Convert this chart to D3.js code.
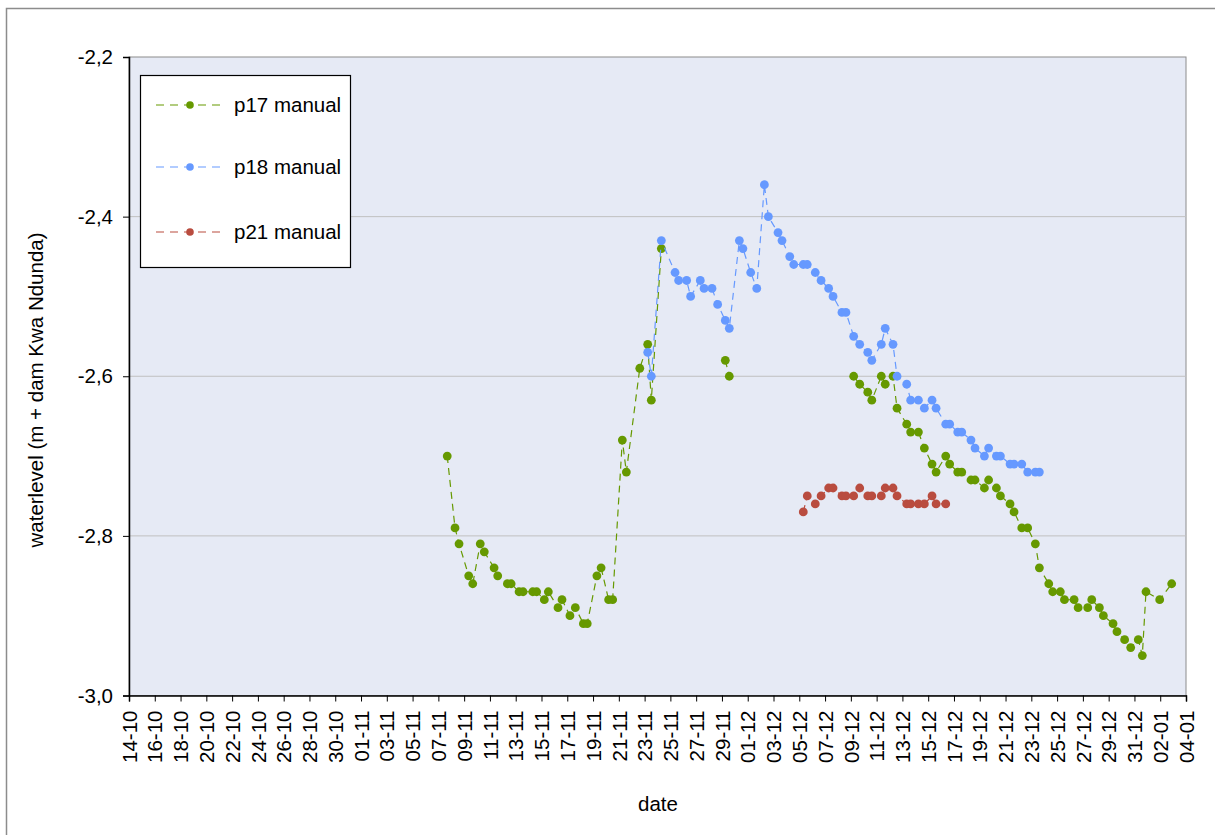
<!DOCTYPE html>
<html><head><meta charset="utf-8">
<script src="https://cdn.jsdelivr.net/npm/d3@7"></script>
<style>
html,body{margin:0;padding:0;background:#fff;}
svg{display:block;font-family:"Liberation Sans",Arial,sans-serif;}
</style></head>
<body>
<svg id="chart" width="1215" height="835"></svg>
<script>
// ---- data ----
const seriesNames = ["p17 manual", "p18 manual", "p21 manual"];
const seriesColors = ["#669900", "#6699ff", "#b94c3f"];

const p17Data = [
["2009-11-07 16:30",-2.70],["2009-11-08 07:00",-2.79],["2009-11-08 14:30",-2.81],["2009-11-09 08:30",-2.85],["2009-11-09 16:00",-2.86],
["2009-11-10 06:00",-2.81],["2009-11-10 13:30",-2.82],["2009-11-11 07:45",-2.84],["2009-11-11 14:30",-2.85],["2009-11-12 08:30",-2.86],
["2009-11-12 15:30",-2.86],["2009-11-13 06:15",-2.87],["2009-11-13 13:45",-2.87],["2009-11-14 07:45",-2.87],["2009-11-14 15:00",-2.87],
["2009-11-15 05:15",-2.88],["2009-11-15 12:45",-2.87],["2009-11-16 06:45",-2.89],["2009-11-16 14:10",-2.88],["2009-11-17 05:00",-2.90],
["2009-11-17 15:00",-2.89],["2009-11-18 06:00",-2.91],["2009-11-18 13:10",-2.91],["2009-11-19 07:10",-2.85],["2009-11-19 15:00",-2.84],
["2009-11-20 05:00",-2.88],["2009-11-20 12:30",-2.88],["2009-11-21 06:30",-2.68],["2009-11-21 14:00",-2.72],["2009-11-22 15:00",-2.59],
["2009-11-23 05:45",-2.56],["2009-11-23 12:30",-2.63],["2009-11-24 07:10",-2.44],
["2009-11-26 12:00",null],
["2009-11-29 06:15",-2.58],["2009-11-29 13:40",-2.60],
["2009-12-05 12:00",null],
["2009-12-09 05:15",-2.60],["2009-12-09 16:30",-2.61],["2009-12-10 07:30",-2.62],["2009-12-10 15:00",-2.63],["2009-12-11 08:40",-2.60],
["2009-12-11 16:00",-2.61],["2009-12-12 06:30",-2.60],["2009-12-12 14:00",-2.64],["2009-12-13 08:00",-2.66],["2009-12-13 15:20",-2.67],
["2009-12-14 05:45",-2.67],["2009-12-14 16:50",-2.69],["2009-12-15 07:10",-2.71],["2009-12-15 14:40",-2.72],["2009-12-16 08:40",-2.70],
["2009-12-16 16:00",-2.71],["2009-12-17 07:00",-2.72],["2009-12-17 14:30",-2.72],["2009-12-18 07:40",-2.73],["2009-12-18 15:10",-2.73],
["2009-12-19 08:40",-2.74],["2009-12-19 16:30",-2.73],["2009-12-20 07:00",-2.74],["2009-12-20 14:30",-2.75],["2009-12-21 08:25",-2.76],
["2009-12-21 15:50",-2.77],["2009-12-22 06:15",-2.79],["2009-12-22 17:15",-2.79],["2009-12-23 07:30",-2.81],["2009-12-23 15:00",-2.84],
["2009-12-24 08:30",-2.86],["2009-12-24 15:50",-2.87],["2009-12-25 06:00",-2.87],["2009-12-25 13:40",-2.88],["2009-12-26 07:40",-2.88],
["2009-12-26 15:10",-2.89],["2009-12-27 09:00",-2.89],["2009-12-27 16:30",-2.88],["2009-12-28 06:45",-2.89],["2009-12-28 14:10",-2.90],
["2009-12-29 08:10",-2.91],["2009-12-29 15:30",-2.92],["2009-12-30 05:45",-2.93],["2009-12-30 17:00",-2.94],["2009-12-31 07:10",-2.93],
["2009-12-31 14:40",-2.95],["2009-12-31 21:30",-2.87],["2010-01-01 23:00",-2.88],["2010-01-02 21:20",-2.86]
];

const p18Data = [
["2009-11-23 05:45",-2.57],["2009-11-23 12:30",-2.60],["2009-11-24 07:10",-2.43],["2009-11-25 08:40",-2.47],["2009-11-25 15:20",-2.48],
["2009-11-26 06:15",-2.48],["2009-11-26 13:40",-2.50],["2009-11-27 07:40",-2.48],["2009-11-27 14:40",-2.49],["2009-11-28 05:30",-2.49],
["2009-11-28 16:00",-2.51],["2009-11-29 06:15",-2.53],["2009-11-29 13:40",-2.54],["2009-11-30 08:25",-2.43],["2009-11-30 15:00",-2.44],
["2009-12-01 05:30",-2.47],["2009-12-01 16:50",-2.49],["2009-12-02 07:00",-2.36],["2009-12-02 14:25",-2.40],["2009-12-03 08:25",-2.42],
["2009-12-03 15:50",-2.43],["2009-12-04 06:15",-2.45],["2009-12-04 13:40",-2.46],["2009-12-05 07:25",-2.46],["2009-12-05 14:50",-2.46],
["2009-12-06 05:45",-2.47],["2009-12-06 16:35",-2.48],["2009-12-07 06:40",-2.49],["2009-12-07 14:50",-2.50],["2009-12-08 07:25",-2.52],
["2009-12-08 14:50",-2.52],["2009-12-09 05:15",-2.55],["2009-12-09 16:30",-2.56],["2009-12-10 07:30",-2.57],["2009-12-10 15:00",-2.58],
["2009-12-11 08:40",-2.56],["2009-12-11 16:00",-2.54],["2009-12-12 06:30",-2.56],["2009-12-12 14:00",-2.60],["2009-12-13 08:00",-2.61],
["2009-12-13 15:20",-2.63],["2009-12-14 05:45",-2.63],["2009-12-14 16:50",-2.64],["2009-12-15 07:10",-2.63],["2009-12-15 14:40",-2.64],
["2009-12-16 08:40",-2.66],["2009-12-16 16:00",-2.66],["2009-12-17 07:00",-2.67],["2009-12-17 14:30",-2.67],["2009-12-18 07:40",-2.68],
["2009-12-18 15:10",-2.69],["2009-12-19 08:40",-2.70],["2009-12-19 16:30",-2.69],["2009-12-20 07:00",-2.70],["2009-12-20 14:30",-2.70],
["2009-12-21 08:25",-2.71],["2009-12-21 15:50",-2.71],["2009-12-22 06:15",-2.71],["2009-12-22 17:15",-2.72],["2009-12-23 07:30",-2.72],
["2009-12-23 15:00",-2.72]
];

const p21Data = [
["2009-12-05 07:25",-2.77],["2009-12-05 14:50",-2.75],["2009-12-06 05:45",-2.76],["2009-12-06 16:35",-2.75],["2009-12-07 06:40",-2.74],
["2009-12-07 14:50",-2.74],["2009-12-08 07:25",-2.75],["2009-12-08 14:50",-2.75],["2009-12-09 05:15",-2.75],["2009-12-09 16:30",-2.74],
["2009-12-10 07:30",-2.75],["2009-12-10 15:00",-2.75],["2009-12-11 08:40",-2.75],["2009-12-11 16:00",-2.74],["2009-12-12 06:30",-2.74],
["2009-12-12 14:00",-2.75],["2009-12-13 08:00",-2.76],["2009-12-13 15:20",-2.76],["2009-12-14 05:45",-2.76],["2009-12-14 16:50",-2.76],
["2009-12-15 07:10",-2.75],["2009-12-15 14:40",-2.76],["2009-12-16 08:40",-2.76]
];

const xTickDates = ["2009-10-14","2009-10-16","2009-10-18","2009-10-20","2009-10-22","2009-10-24","2009-10-26","2009-10-28","2009-10-30",
"2009-11-01","2009-11-03","2009-11-05","2009-11-07","2009-11-09","2009-11-11","2009-11-13","2009-11-15","2009-11-17","2009-11-19",
"2009-11-21","2009-11-23","2009-11-25","2009-11-27","2009-11-29","2009-12-01","2009-12-03","2009-12-05","2009-12-07","2009-12-09",
"2009-12-11","2009-12-13","2009-12-15","2009-12-17","2009-12-19","2009-12-21","2009-12-23","2009-12-25","2009-12-27","2009-12-29",
"2009-12-31","2010-01-02","2010-01-04"];
const yTicks = [-3.0, -2.8, -2.6, -2.4, -2.2];
const yTitle = "waterlevel (m + dam Kwa Ndunda)";
const xTitle = "date";

// ---- drawing ----
const parseT = d3.timeParse("%Y-%m-%d %H:%M");
const parseD = d3.timeParse("%Y-%m-%d");
const svg = d3.select("#chart");
const L = 129, R = 1186, T = 57, B = 695.5;
const FONT = '"Liberation Sans",Arial,sans-serif';

const x = d3.scaleTime().domain([parseD(xTickDates[0]), parseD(xTickDates[xTickDates.length-1])]).range([L, R]);
const y = d3.scaleLinear().domain([-3.0, -2.2]).range([B, T]);

// outer frame
svg.append("rect").attr("x",6.5).attr("y",8.5).attr("width",1220).attr("height",840)
  .attr("fill","#fff").attr("stroke","#8c8c8c").attr("stroke-width",1.5);

// plot area
svg.append("rect").attr("x",L).attr("y",T).attr("width",R-L).attr("height",B-T)
  .attr("fill","#e6eaf5").attr("stroke","#8c8c8c").attr("stroke-width",1);

// gridlines
svg.append("g").selectAll("line").data(yTicks.filter(v => v > -3.0 && v < -2.2)).join("line")
  .attr("x1",L).attr("x2",R).attr("y1",d=>y(d)).attr("y2",d=>y(d))
  .attr("stroke","#c0c0c0").attr("stroke-width",1);

// y axis
const yAxis = svg.append("g").attr("transform",`translate(${L},0)`)
  .call(d3.axisLeft(y).tickValues(yTicks).tickSize(6).tickPadding(10)
    .tickFormat(d => d3.format(".1f")(d).replace(".", ",").replace("−","-")));
yAxis.select(".domain").attr("stroke","#000").attr("stroke-width",1.5);
yAxis.selectAll(".tick line").attr("stroke","#000");
yAxis.selectAll("text").attr("font-size",20.5).attr("fill","#000").attr("font-family",FONT);

// x axis
const xAxis = svg.append("g").attr("transform",`translate(0,${B})`)
  .call(d3.axisBottom(x).tickValues(xTickDates.map(parseD)).tickSize(6)
    .tickFormat(d3.timeFormat("%d-%m")));
xAxis.select(".domain").attr("stroke","#000").attr("stroke-width",1.5);
xAxis.selectAll(".tick line").attr("stroke","#000");
xAxis.selectAll("text").attr("font-size",20.5).attr("fill","#000").attr("font-family",FONT)
  .attr("transform","rotate(-90)").attr("text-anchor","end")
  .attr("x",-15).attr("y",0).attr("dy","0.35em");

// titles
svg.append("text").attr("transform",`translate(43,390) rotate(-90)`).attr("text-anchor","middle")
  .attr("font-size",20.5).attr("fill","#000").text(yTitle);
svg.append("text").attr("x",658).attr("y",811).attr("text-anchor","middle")
  .attr("font-size",20.5).attr("fill","#000").text(xTitle);

// series
const allSeries = [p17Data, p18Data, p21Data].map(arr => arr.map(d => ({t: parseT(d[0]), v: d[1]})));
const line = d3.line().defined(d => d.v !== null).x(d => x(d.t)).y(d => y(d.v));
allSeries.forEach((s, i) => {
  const g = svg.append("g");
  g.append("path").datum(s).attr("d", line).attr("fill","none")
    .attr("stroke", seriesColors[i]).attr("stroke-width",1.2).attr("stroke-dasharray","7,5");
  g.selectAll("circle").data(s.filter(d => d.v !== null)).join("circle")
    .attr("cx", d => x(d.t)).attr("cy", d => y(d.v)).attr("r", 4.4).attr("fill", seriesColors[i]);
});

// legend
const lg = svg.append("g");
lg.append("rect").attr("x",140.5).attr("y",75.5).attr("width",210).attr("height",192)
  .attr("fill","#fff").attr("stroke","#000").attr("stroke-width",1.2);
const legY = [105, 167, 232];
seriesNames.forEach((n, i) => {
  lg.append("line").attr("x1",156).attr("x2",226).attr("y1",legY[i]).attr("y2",legY[i])
    .attr("stroke",seriesColors[i]).attr("stroke-width",1.2).attr("stroke-dasharray","8,6");
  lg.append("circle").attr("cx",190).attr("cy",legY[i]).attr("r",3.8).attr("fill",seriesColors[i]);
  lg.append("text").attr("x",234).attr("y",legY[i]).attr("dy","0.35em").attr("font-size",20.5)
    .attr("fill","#000").text(n);
});
</script>
</body></html>
